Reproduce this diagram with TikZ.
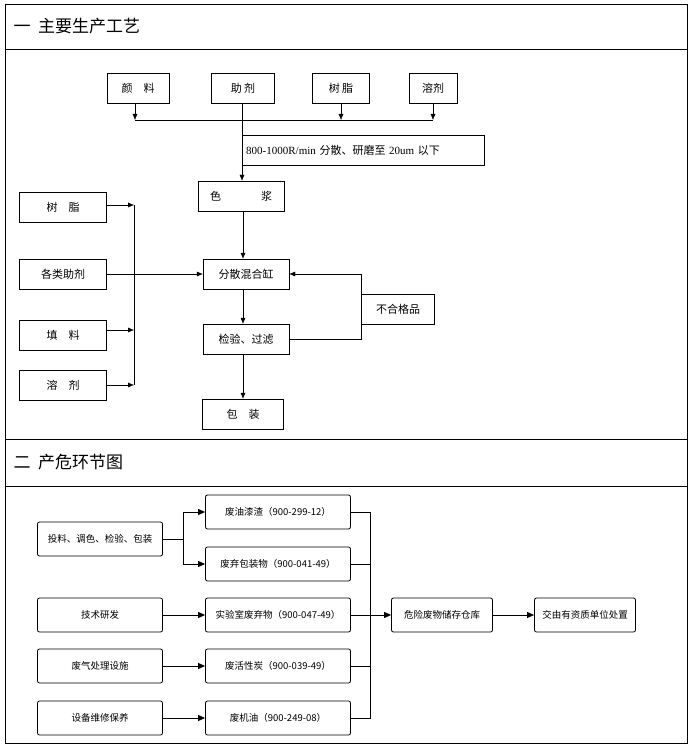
\documentclass[tikz,border=0pt]{standalone}
\usepackage{fontspec}
\setmainfont{Liberation Serif}
\newfontfamily\cjk{Noto Sans CJK SC}
\usetikzlibrary{positioning,calc,arrows.meta}

\begin{document}
\begin{tikzpicture}[x=1pt,y=-1pt,
    box/.style={draw, minimum height=30pt, inner sep=0pt, font=\cjk\fontsize{11}{12}\selectfont},
    rbox/.style={draw, thick, rounded corners=2pt, minimum height=34pt, inner sep=0pt, font=\cjk\fontsize{9.5}{11}\selectfont},
    arr/.style={-{Latex[length=6pt,width=5pt]}},
    barr/.style={thick, -{Triangle[length=7pt,width=6pt]}}]
    \useasboundingbox (0,0) rectangle (691,746);
    % frame
    \draw (5,4) rectangle (687,743);
    \draw (5,49) -- (687,49);
    \draw (5,439) -- (687,439);
    \draw (5,486) -- (687,486);
    \node[anchor=west, font=\cjk\fontsize{17}{19}\selectfont] (t1) at (10,26) {一\ \ 主要生产工艺};
    \node[anchor=west, font=\cjk\fontsize{17}{19}\selectfont] (t2) at (10,462) {二\ \ 产危环节图};

    % main process
    \node[box, minimum width=62pt] (yanliao) at (138,88) {颜\quad 料};
    \node[box, minimum width=63pt] (zhuji) at (243,88) {助\ 剂};
    \node[box, minimum width=57pt] (shuzhi) at (341,88) {树\ 脂};
    \node[box, minimum width=48pt] (rongji) at (433,88) {溶剂};
    \coordinate (busl) at (135,120);
    \coordinate (busr) at (433,120);
    \draw (busl) -- (busr);
    \draw[arr] (yanliao.south -| busl) -- (busl);
    \draw[arr] (shuzhi.south) -- (shuzhi.south |- busl);
    \draw[arr] (rongji.south) -- (busr);
    \node[box, text width=234pt, inner xsep=4pt, align=left, anchor=west, font=\fontsize{11}{12}\selectfont] (note) at (242,150)
        {800-1000R/min {\cjk 分散、研磨至} 20um {\cjk 以下}};
    \node[box, minimum width=86pt] (sejiang) at (241,196) {色\hspace{40pt}浆};
    \draw[arr] (zhuji.south -| note.west) -- (sejiang.north -| note.west);
    \node[box, minimum width=86pt] (hunhe) at (246,274) {分散混合缸};
    \node[box, minimum width=86pt] (jianyan) at (246,339) {检验、过滤};
    \node[box, minimum width=81pt] (baozhuang) at (243,414) {包\quad 装};
    \node[box, minimum width=73pt] (buhege) at (398,309) {不合格品};
    \draw[arr] (sejiang.south -| zhuji) -- (hunhe.north -| zhuji);
    \draw[arr] (hunhe.south -| zhuji) -- (jianyan.north -| zhuji);
    \draw[arr] (jianyan.south -| zhuji) -- (baozhuang.north -| zhuji);
    \draw[arr] (jianyan.east) -- (jianyan.east -| buhege.west) -- (hunhe.east -| buhege.west) -- (hunhe.east);

    % additives
    \node[box, minimum width=87pt] (shuzhi2) at (63,207) {树\quad 脂};
    \node[box, minimum width=87pt] (zhuji2) at (63,274) {各类助剂};
    \node[box, minimum width=87pt] (tianliao) at (63,335) {填\quad 料};
    \node[box, minimum width=87pt] (rongji2) at (63,385) {溶\quad 剂};
    \coordinate (bust) at (134,205);
    \coordinate (busb) at (134,385);
    \draw (bust) -- (busb);
    \draw[arr] (shuzhi2.east |- bust) -- (bust);
    \draw[arr] (tianliao.east |- 0,330) -- (134,330);
    \draw[arr] (rongji2.east) -- (busb);
    \draw[arr] (zhuji2.east) -- (hunhe.west);

    % hazardous waste
    \node[rbox, minimum width=125pt] (src1) at (100,539) {投料、调色、检验、包装};
    \node[rbox, minimum width=125pt] (src2) at (100,615) {技术研发};
    \node[rbox, minimum width=125pt] (src3) at (100,666) {废气处理设施};
    \node[rbox, minimum width=125pt] (src4) at (100,718) {设备维修保养};
    \node[rbox, minimum width=145pt] (w1) at (278,512) {废油漆渣（900-299-12）};
    \node[rbox, minimum width=145pt] (w2) at (278,564) {废弃包装物（900-041-49）};
    \node[rbox, minimum width=145pt] (w3) at (278,615) {实验室废弃物（900-047-49）};
    \node[rbox, minimum width=145pt] (w4) at (278,666) {废活性炭（900-039-49）};
    \node[rbox, minimum width=145pt] (w5) at (278,718) {废机油（900-249-08）};
    \node[rbox, minimum width=101pt] (store) at (442,615) {危险废物储存仓库};
    \node[rbox, minimum width=101pt] (dispose) at (585,615) {交由有资质单位处置};
    \coordinate (fork) at (183,539);
    \coordinate (join) at (370,615);
    \draw[thick] (src1.east) -- (fork);
    \draw[barr] (fork) |- (w1.west);
    \draw[barr] (fork) |- (w2.west);
    \draw[barr] (src2) -- (w3);
    \draw[barr] (src3) -- (w4);
    \draw[barr] (src4) -- (w5);
    \foreach \w in {w1,w2,w4,w5}
        \draw[thick] (\w.east) -| (join);
    \draw[barr] (w3.east) -- (store.west);
    \draw[barr] (store) -- (dispose);
\end{tikzpicture}
\end{document}
